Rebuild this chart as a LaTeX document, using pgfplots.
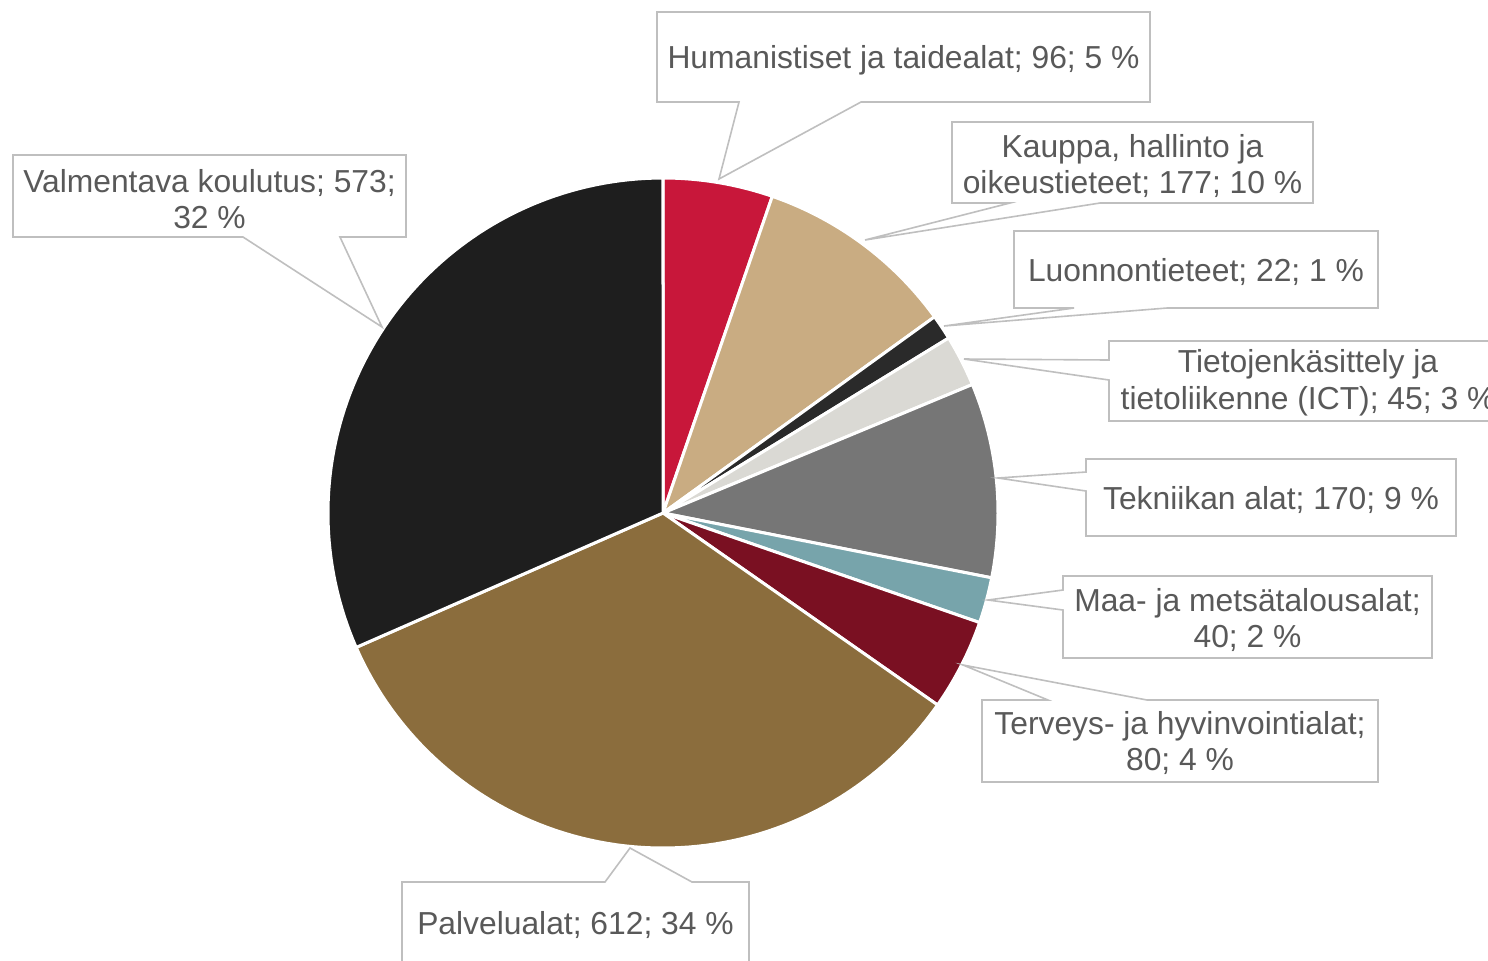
\documentclass[border=0pt]{standalone}
\usepackage{pgfplots}
\pgfplotsset{compat=1.18}
\usepackage{fontspec}
\setmainfont{Liberation Sans}
\definecolor{cHum}{HTML}{C8173A}
\definecolor{cKau}{HTML}{C9AC82}
\definecolor{cLuo}{HTML}{2A2A2A}
\definecolor{cICT}{HTML}{DAD9D4}
\definecolor{cTek}{HTML}{767676}
\definecolor{cMaa}{HTML}{77A4AB}
\definecolor{cTer}{HTML}{7A1022}
\definecolor{cPal}{HTML}{8B6D3D}
\definecolor{cVal}{HTML}{1E1E1E}
\definecolor{txt}{HTML}{595959}
\definecolor{bord}{HTML}{BFBFBF}
% values: 96, 177, 22, 45, 170, 40, 80, 612, 573 (total 1815)
\newcommand{\slice}[3]{%
  \addplot[fill=#1, draw=white, line width=1.5pt, domain=#2:#3, samples=80, variable=\t]
    ({663+335*sin(\t*360/1815)}, {513-335*cos(\t*360/1815)}) -- (axis cs:663,513) -- cycle;}
\begin{document}
\begin{tikzpicture}
\begin{axis}[width=744pt, height=480pt, scale only axis,
  xmin=0, xmax=1488, ymin=0, ymax=960, y dir=reverse,
  hide axis, clip=false]
% cumulative boundaries of the counts
\slice{cHum}{0}{96}
\slice{cKau}{96}{273}
\slice{cLuo}{273}{295}
\slice{cICT}{295}{340}
\slice{cTek}{340}{510}
\slice{cMaa}{510}{550}
\slice{cTer}{550}{630}
\slice{cPal}{630}{1242}
\slice{cVal}{1242}{1815}
\tikzset{callout/.style={draw=bord, fill=white, line width=0.8pt, line join=miter},
         lab/.style={font=\fontsize{15.9}{18.3}\selectfont, text=txt, align=center, inner sep=0pt, anchor=center}}
% Humanistiset
\draw[callout] (axis cs:657,12) -- (axis cs:1150,12) -- (axis cs:1150,102) -- (axis cs:861,102) -- (axis cs:719,179) -- (axis cs:739,102) -- (axis cs:657,102) -- cycle;
\node[lab] at (axis cs:903.5,60) {Humanistiset ja taidealat; 96; 5 \%};
% Kauppa
\draw[callout] (axis cs:952,122) -- (axis cs:1313,122) -- (axis cs:1313,203) -- (axis cs:1100,203) -- (axis cs:865,240) -- (axis cs:1010,203) -- (axis cs:952,203) -- cycle;
\node[lab] at (axis cs:1132.5,166) {Kauppa, hallinto ja\\oikeustieteet; 177; 10 \%};
% Luonnontieteet
\draw[callout] (axis cs:1014,231) -- (axis cs:1378,231) -- (axis cs:1378,308) -- (axis cs:1167,308) -- (axis cs:944,326) -- (axis cs:1074,308) -- (axis cs:1014,308) -- cycle;
\node[lab] at (axis cs:1196,272) {Luonnontieteet; 22; 1 \%};
% ICT
\draw[callout] (axis cs:1109,341) -- (axis cs:1520,341) -- (axis cs:1520,421) -- (axis cs:1109,421) -- (axis cs:1109,380) -- (axis cs:964,359) -- (axis cs:1109,360) -- cycle;
\node[lab] at (axis cs:1308,383) {Tietojenkäsittely ja\\tietoliikenne (ICT); 45; 3 \%};
% Tekniikan
\draw[callout] (axis cs:1086,459) -- (axis cs:1456,459) -- (axis cs:1456,536) -- (axis cs:1086,536) -- (axis cs:1086,491) -- (axis cs:998,478) -- (axis cs:1086,472) -- cycle;
\node[lab] at (axis cs:1271,500) {Tekniikan alat; 170; 9 \%};
% Maa
\draw[callout] (axis cs:1063,576) -- (axis cs:1432,576) -- (axis cs:1432,658) -- (axis cs:1063,658) -- (axis cs:1063,610) -- (axis cs:988,600) -- (axis cs:1063,590) -- cycle;
\node[lab] at (axis cs:1247.5,620) {Maa- ja metsätalousalat;\\40; 2 \%};
% Terveys
\draw[callout] (axis cs:982,700) -- (axis cs:1048,700) -- (axis cs:963,665) -- (axis cs:1147,700) -- (axis cs:1378,700) -- (axis cs:1378,782) -- (axis cs:982,782) -- cycle;
\node[lab] at (axis cs:1180,743) {Terveys- ja hyvinvointialat;\\80; 4 \%};
% Valmentava
\draw[callout] (axis cs:13,155) -- (axis cs:406,155) -- (axis cs:406,237) -- (axis cs:340,237) -- (axis cs:382,327) -- (axis cs:243,237) -- (axis cs:13,237) -- cycle;
\node[lab] at (axis cs:209.5,199) {Valmentava koulutus; 573;\\32 \%};
% Palvelualat
\draw[callout] (axis cs:402,882) -- (axis cs:605,882) -- (axis cs:630,848) -- (axis cs:692,882) -- (axis cs:749,882) -- (axis cs:749,975) -- (axis cs:402,975) -- cycle;
\node[lab] at (axis cs:575.5,925) {Palvelualat; 612; 34 \%};
\end{axis}
\pgfresetboundingbox
\useasboundingbox (current axis.south west) rectangle (current axis.north east);
\end{tikzpicture}
\end{document}
